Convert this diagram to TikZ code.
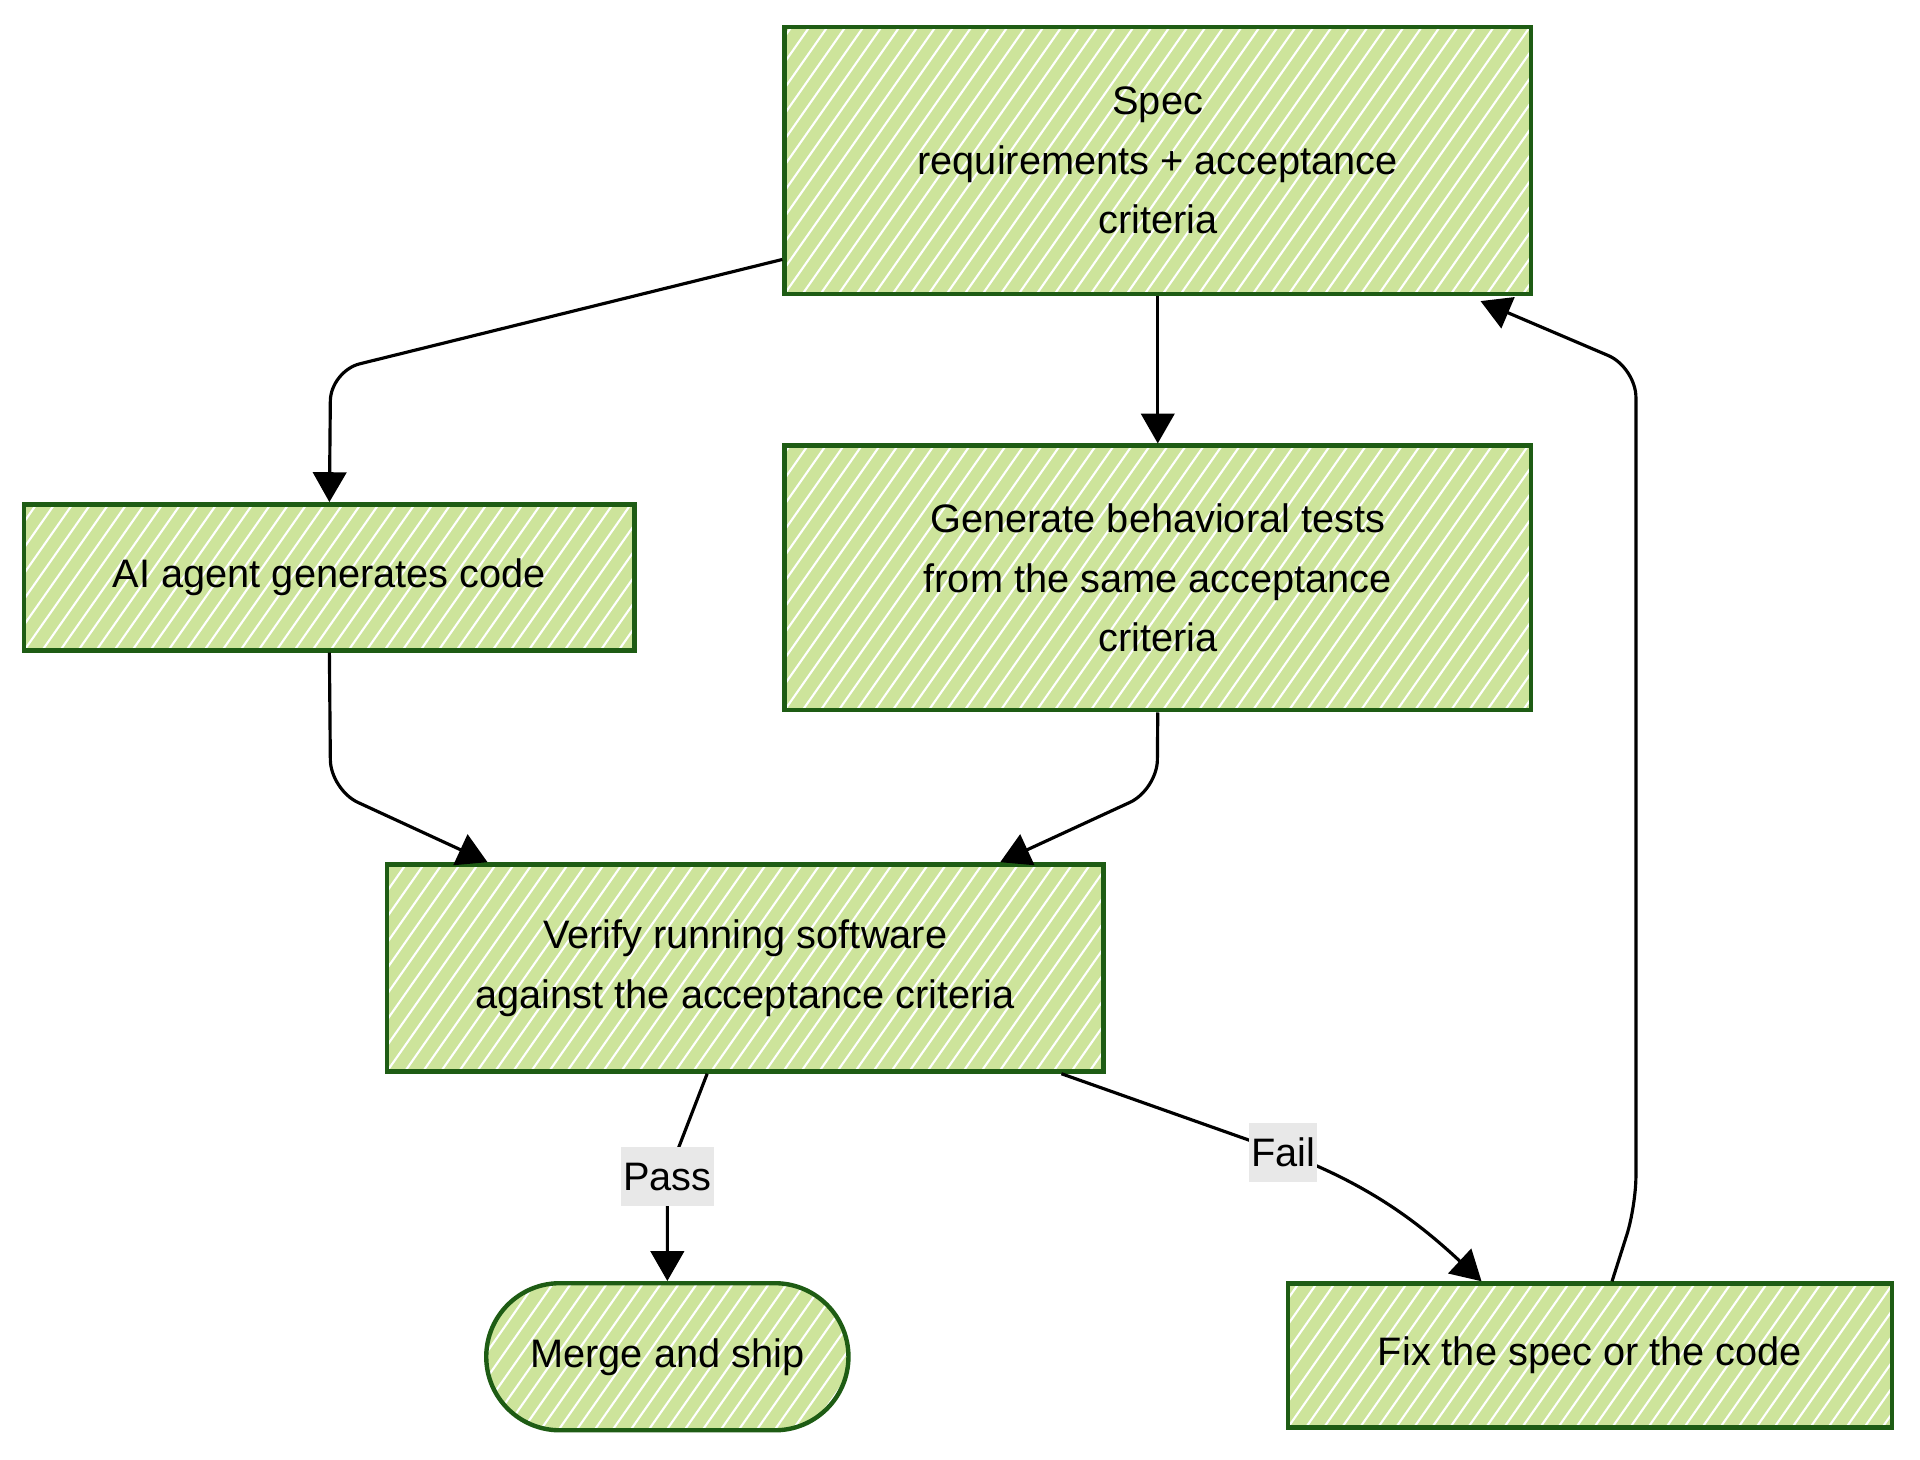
\documentclass[tikz,border=0pt]{standalone}
\usepackage{fontspec}
\setmainfont{Liberation Sans}
\usetikzlibrary{arrows.meta,positioning,shapes.misc,calc}
\definecolor{Leaf}{HTML}{CDE49B}
\definecolor{Forest}{HTML}{1E5C14}
\definecolor{Ash}{HTML}{E8E8E8}

\begin{document}
\begin{tikzpicture}[x=0.012245cm, y=-0.012245cm,
    hatched/.style={fill=Leaf, draw=Forest, line width=1.25pt,
      path picture={
        \foreach \k in {-12,...,45}
          \draw[white, line width=0.6pt]
            ([xshift=\k*1.8mm]path picture bounding box.south west) -- ++(55:3.5cm);
      }},
    stepbox/.style={hatched, rectangle, align=center, inner sep=0pt,
      font=\fontsize{11.3}{17}\selectfont},
    endbox/.style={stepbox, rounded rectangle},
    flow/.style={line width=0.9pt, -{Triangle[length=8.5pt,width=9.5pt]}, rounded corners=0.3cm},
    tag/.style={fill=Ash, inner xsep=0.6pt, inner ysep=0pt, minimum height=16.7pt,
      font=\fontsize{11.3}{17}\selectfont}]
    \useasboundingbox (0,0) rectangle (1568,1192);

    % Boxes
    \node[stepbox, minimum width=7.46cm, minimum height=2.67cm] (spec) at (945.5,131)
      {Spec\\requirements + acceptance\\criteria};
    \node[stepbox, minimum width=6.10cm, minimum height=1.46cm] (agent) at (269,471.5)
      {AI agent generates code};
    \node[stepbox, minimum width=7.46cm, minimum height=2.645cm] (tests) at (945.5,472)
      {Generate behavioral tests\\from the same acceptance\\criteria};
    \node[stepbox, minimum width=7.16cm, minimum height=2.07cm] (verify) at (608.5,790.5)
      {Verify running software\\against the acceptance criteria};
    \node[endbox, minimum width=3.62cm, minimum height=1.47cm] (merge) at (545,1108)
      {Merge and ship};
    \node[stepbox, minimum width=6.04cm, minimum height=1.44cm] (fix) at (1298.5,1107)
      {Fix the spec or the code};

    % Connectors
    \draw[flow] ($(spec.south west)+(0,-30)$) -- (270,303) -- (agent.north);
    \draw[flow] (spec.south) -- (tests.north);
    \draw[flow] (agent.south) -- (270,645) -- ($(verify.north west)+(84,0)$);
    \draw[flow] (tests.south) -- (945,645) -- ($(verify.north east)+(-86,0)$);
    \draw[flow] ($(verify.south)+(-31,0)$) -- (545,961) -- (merge.north);
    \draw[flow, sharp corners] ($(verify.south east)+(-36,0)$) -- (1048,941)
      .. controls (1120,968) and (1160,1000) .. ($(fix.north west)+(160,0)$);
    \draw[flow] ($(fix.north)+(18,0)$) -- (1336,985) -- (1336,300) -- ($(spec.south east)+(-43,4)$);

    % Labels
    \node[tag] (pass) at (545,961) {Pass};
    \node[tag] (fail) at (1048,941) {Fail};
\end{tikzpicture}
\end{document}
